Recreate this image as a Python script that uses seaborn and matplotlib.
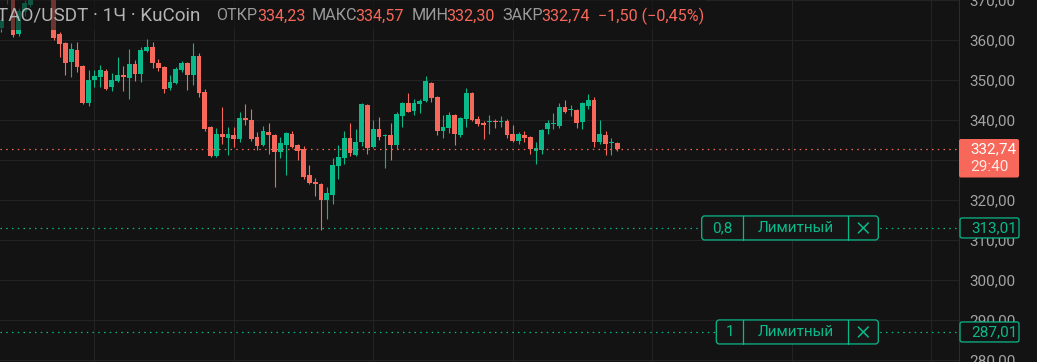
import matplotlib
matplotlib.use("Agg")
import matplotlib.pyplot as plt
import seaborn as sns
import numpy as np
import pandas as pd
from matplotlib.patches import FancyBboxPatch, Rectangle
from matplotlib.transforms import Affine2D

# ---------------- data (TAO/USDT, 1H, KuCoin) ----------------
opens = [363.0, 371.0, 373.0, 361.4, 367.1, 368.8, 371.5, 374.0, 372.3, 371.0,
         361.5, 359.2, 354.6, 357.5, 353.5, 344.3, 350.0, 350.8, 352.3, 348.2,
         349.8, 351.25, 350.6, 354.0, 351.5, 357.25, 358.3, 354.3, 353.2, 348.1,
         349.2, 352.5, 354.3, 351.25, 356.0, 347.0, 338.25, 331.1, 336.6, 335.6,
         336.25, 335.3, 340.5, 340.0, 335.75, 333.8, 337.0, 336.25, 332.1, 333.75,
         336.5, 333.75, 332.75, 326.25, 324.6, 324.0, 320.0, 321.25, 328.5, 330.5,
         335.5, 331.25, 334.5, 343.75, 333.25, 337.75, 336.1, 336.25, 333.75, 341.0,
         344.25, 342.25, 344.0, 344.75, 349.25, 345.75, 337.25, 338.0, 341.25, 336.25,
         340.25, 346.75, 340.25, 339.25, 339.4, 339.5, 339.4, 339.75, 336.5, 334.75,
         336.25, 335.75, 332.25, 332.5, 337.75, 339.0, 338.5, 343.25, 342.4, 342.5,
         339.5, 343.5, 345.0, 334.5, 336.25, 334.2, 334.23]
highs = [365.5, 376.0, 374.0, 368.0, 370.0, 372.5, 375.0, 375.5, 373.0, 371.5,
         362.0, 359.5, 359.2, 359.5, 353.8, 352.5, 352.5, 353.75, 352.8, 351.8,
         355.7, 353.6, 357.7, 355.0, 358.3, 360.2, 359.6, 355.25, 353.5, 351.2,
         353.3, 354.75, 354.5, 359.2, 356.75, 347.7, 338.5, 338.0, 343.25, 338.25,
         338.25, 342.0, 344.0, 342.75, 337.0, 338.4, 339.25, 336.5, 335.75, 337.0,
         337.25, 334.0, 333.5, 328.75, 325.5, 324.2, 323.25, 330.5, 333.75, 337.25,
         339.25, 337.75, 344.2, 344.0, 340.0, 340.75, 336.5, 339.25, 342.0, 344.5,
         346.75, 345.25, 345.25, 351.0, 349.5, 346.0, 341.25, 342.0, 341.5, 340.75,
         348.0, 347.0, 341.0, 339.75, 341.25, 340.25, 341.0, 340.25, 338.75, 337.0,
         337.25, 336.0, 334.5, 337.75, 340.0, 341.75, 344.25, 345.0, 343.75, 342.75,
         344.5, 346.5, 345.75, 340.0, 337.25, 335.5, 334.57]
lows = [362.0, 369.0, 360.8, 360.9, 366.0, 368.3, 370.8, 371.5, 370.5, 359.9,
        355.8, 351.25, 350.8, 352.1, 344.0, 343.5, 348.2, 348.2, 347.5, 347.3,
        349.5, 347.3, 345.2, 349.75, 349.6, 357.0, 352.9, 352.3, 346.7, 347.5,
        349.0, 352.0, 347.5, 348.75, 345.7, 337.3, 330.8, 330.8, 334.1, 331.25,
        333.3, 334.6, 338.75, 334.8, 332.5, 333.5, 331.6, 323.3, 330.6, 326.3,
        333.0, 330.1, 325.3, 324.0, 321.1, 312.5, 315.25, 319.0, 325.25, 329.0,
        331.0, 331.0, 333.5, 331.5, 333.0, 335.0, 328.0, 330.0, 332.75, 338.25,
        342.0, 341.25, 341.75, 344.5, 344.5, 336.25, 335.5, 336.75, 333.75, 335.75,
        338.25, 339.75, 338.5, 335.25, 336.5, 338.0, 338.25, 335.5, 334.5, 334.0,
        334.5, 331.5, 329.0, 331.5, 336.5, 337.75, 338.0, 341.8, 341.0, 338.0,
        337.75, 342.75, 333.25, 334.0, 331.25, 331.25, 332.30]
closes = [365.0, 374.5, 361.3, 367.3, 369.2, 371.5, 374.0, 372.3, 371.0, 360.4,
          358.9, 354.3, 357.7, 353.3, 344.3, 350.0, 351.0, 352.5, 347.8, 350.0,
          351.25, 350.7, 354.0, 351.5, 357.5, 358.2, 354.2, 353.1, 347.7, 349.5,
          352.75, 354.3, 351.25, 356.0, 346.8, 337.8, 331.1, 336.5, 335.75, 336.6,
          335.25, 340.5, 340.1, 335.3, 333.6, 337.25, 336.25, 332.1, 334.25, 336.75,
          333.3, 332.3, 325.8, 324.3, 324.0, 320.0, 321.75, 328.75, 330.75, 335.5,
          331.75, 334.5, 344.0, 333.0, 337.75, 335.75, 336.3, 333.75, 341.5, 344.25,
          342.1, 344.25, 344.75, 349.75, 345.5, 337.25, 338.25, 341.25, 336.5, 340.5,
          346.75, 340.0, 339.0, 338.75, 339.5, 339.4, 339.75, 336.25, 334.75, 336.5,
          335.5, 332.75, 333.0, 337.5, 339.25, 339.25, 343.25, 342.0, 342.5, 339.25,
          344.25, 345.0, 334.5, 336.5, 334.0, 334.3, 332.74]

price_ticks = [280, 290, 300, 310, 320, 330, 340, 350, 360, 370]
day_candles = [16, 40, 64, 88, 112, 136, 160]
last_price = 332.74
countdown = "29:40"
order_prices = [313.01, 287.01]
order_qty = ["0,8", "1"]
order_type = "Лимитный"
symbol_text = "TAO/USDT · 1Ч · KuCoin"
ohlc_labels = ["ОТКР", "МАКС", "МИН", "ЗАКР"]
ohlc_values = ["334,23", "334,57", "332,30", "332,74"]
change_text = "−1,50 (−0,45%)"

def fmt(v):
    return f"{v:.2f}".replace(".", ",")

# ---------------- style ----------------
W, H = 1037, 362
BG = "#131313"
GRID = "#232323"
UP = "#0ab98a"
DOWN = "#f7675a"
AXTXT = "#a3a3a3"

sns.set_theme(style="dark", rc={"axes.facecolor": BG, "figure.facecolor": BG,
                                "savefig.facecolor": BG})
plt.rcParams["font.family"] = ["Roboto", "DejaVu Sans"]

fig = plt.figure(figsize=(W / 100, H / 100), dpi=100)
ax = fig.add_axes([0, 0, 959 / W, 1])
ax.set_facecolor(BG)

n = len(opens)
idx = np.arange(n)
df = pd.DataFrame({"i": idx, "o": opens, "h": highs, "l": lows, "c": closes})
df["up"] = df["c"] >= df["o"]
df["color"] = np.where(df["up"], UP, DOWN)
df["bottom"] = df[["o", "c"]].min(axis=1)
df["height"] = (df["c"] - df["o"]).abs().clip(lower=0.25)

# wicks and bodies
ax.vlines(df["i"], df["l"], df["h"], colors=df["color"], linewidth=0.8, zorder=2)
ax.bar(df["i"], df["height"], bottom=df["bottom"], width=0.82, color=df["color"],
       linewidth=0, zorder=3)

# axes scales
x0 = -1.44 / 5.81
ax.set_xlim(x0, x0 + 959 / 5.81)
ax.set_ylim(370 - H / 4, 370)

# grid
ax.set_xticks(day_candles)
ax.set_xticklabels([])
ax.set_yticks(price_ticks)
ax.set_yticklabels([fmt(t) for t in price_ticks])
ax.grid(True, color=GRID, linewidth=0.8, zorder=0)
ax.set_axisbelow(True)
ax.yaxis.tick_right()
ax.tick_params(axis="y", length=0, pad=7.5, labelsize=11, labelcolor=AXTXT)
ax.tick_params(axis="x", length=0)
for s in ["top", "left", "bottom"]:
    ax.spines[s].set_visible(False)
ax.spines["right"].set_color("#2c2c2c")
ax.spines["right"].set_linewidth(0.8)

xl = ax.get_xlim()
# price level lines
sns.lineplot(x=[xl[0], xl[1]], y=[last_price, last_price], ax=ax, color=DOWN,
             linewidth=0.9, linestyle=(0, (1.2, 3.4)), zorder=4)
for p in order_prices:
    sns.lineplot(x=[xl[0], xl[1]], y=[p, p], ax=ax, color=UP,
                 linewidth=0.9, linestyle=(0, (1.2, 3.4)), zorder=4)
ax.set_xlim(xl)

# ---------------- overlays in pixel coordinates ----------------
T = Affine2D().scale(1, -1).translate(0, H)

# header dim background
fig.add_artist(Rectangle((0, 0), 706, 30, transform=T, facecolor=BG, alpha=0.6,
                         edgecolor="none", zorder=5))

fig.text(-3, 16, symbol_text, transform=T, color="#b4b4b4", fontsize=13.6,
         va="center", ha="left", zorder=6)
lab_x = [216, 312, 411.7, 502.3]
val_x = [257.7, 355, 446, 541.7]
for lx, vx, lab, val in zip(lab_x, val_x, ohlc_labels, ohlc_values):
    fig.text(lx, 16, lab, transform=T, color="#9a9a9a", fontsize=11.6,
             va="center", ha="left", zorder=6)
    fig.text(vx, 16, val, transform=T, color=DOWN, fontsize=11.6,
             va="center", ha="left", zorder=6)
fig.text(598.3, 16, change_text, transform=T, color=DOWN, fontsize=11.6,
         va="center", ha="left", zorder=6)

# last price label
fig.add_artist(FancyBboxPatch((959, 139), 60, 38.5, transform=T,
                              boxstyle="round,pad=0,rounding_size=2",
                              facecolor=DOWN, edgecolor="none", zorder=6))
fig.text(970, 149, fmt(last_price), transform=T, color="white", fontsize=11,
         va="center", ha="left", zorder=7)
fig.text(970, 167, countdown, transform=T, color="white", alpha=0.85,
         fontsize=11, va="center", ha="left", zorder=7)

# order price labels on the axis
for p in order_prices:
    yc = (370 - p) * 4
    fig.add_artist(FancyBboxPatch((960, yc - 10), 59, 20, transform=T,
                                  boxstyle="round,pad=0,rounding_size=2",
                                  facecolor=BG, edgecolor=UP, linewidth=0.9,
                                  zorder=6))
    fig.text(971, yc, fmt(p), transform=T, color=UP, fontsize=11,
             va="center", ha="left", zorder=7)

# order boxes
box_left = [701.7, 716.3]
for p, q, bl in zip(order_prices, order_qty, box_left):
    yc = (370 - p) * 4
    fig.add_artist(FancyBboxPatch((bl, yc - 12), 878.3 - bl, 24, transform=T,
                                  boxstyle="round,pad=0,rounding_size=3",
                                  facecolor="#161616", edgecolor=UP,
                                  linewidth=0.9, zorder=6))
    for dx in [743.3, 848.3]:
        fig.add_artist(plt.Line2D([dx, dx], [yc - 12, yc + 12], transform=T,
                                  color=UP, linewidth=0.9, zorder=7))
    fig.text((bl + 743.3) / 2, yc, q, transform=T, color=UP, fontsize=11,
             va="center", ha="center", zorder=7)
    fig.text(796, yc, order_type, transform=T, color=UP, fontsize=11,
             va="center", ha="center", zorder=7)
    # close cross
    for sx in (1, -1):
        fig.add_artist(plt.Line2D([858.3, 868.3], [yc - 5 * sx, yc + 5 * sx],
                                  transform=T, color=UP, linewidth=1.1, zorder=7))

fig.savefig("out.png", dpi=100, facecolor=BG)
